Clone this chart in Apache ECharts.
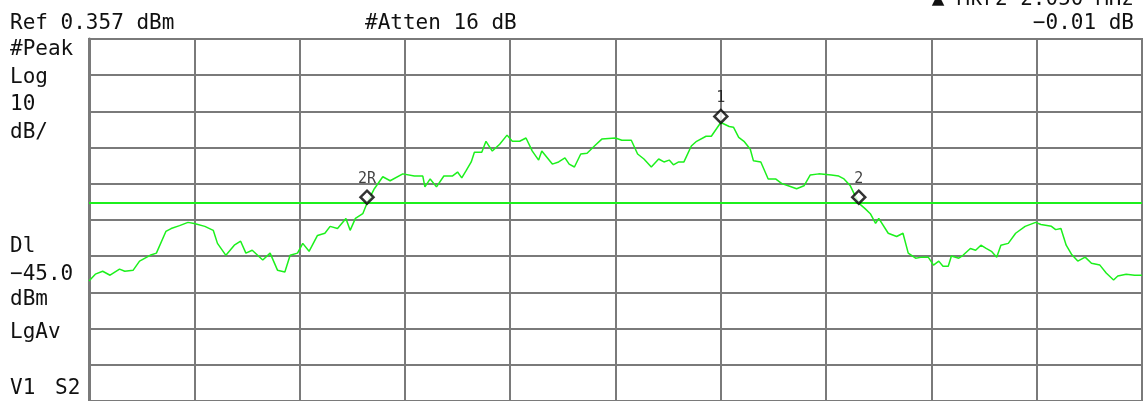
<!DOCTYPE html>
<html>
<head>
<meta charset="utf-8">
<script src="https://cdn.jsdelivr.net/npm/echarts@6/dist/echarts.min.js"></script>
<style>
  html, body { margin: 0; padding: 0; background: #fff; }
  #chart { width: 1143px; height: 401px; }
</style>
</head>
<body>
<div id="chart"></div>
<script>
// reference level and scale (top of screen = REF, 10 dB per division)
const REF = 0.357;
const DIV_DB = 10;
const DISPLAY_LINE = -45.0;

// trace, x in divisions (0..10), level in dBm
const freqDiv = [
  0, 0.06, 0.13, 0.20, 0.29, 0.34, 0.42, 0.48, 0.58, 0.64,
  0.73, 0.78, 0.86, 0.94, 1.00, 1.10, 1.18, 1.22, 1.30, 1.38,
  1.44, 1.49, 1.55, 1.65, 1.72, 1.79, 1.86, 1.91, 1.98, 2.03,
  2.09, 2.17, 2.24, 2.29, 2.36, 2.44, 2.48, 2.53, 2.60, 2.64,
  2.71, 2.79, 2.86, 2.98, 3.09, 3.17, 3.19, 3.24, 3.30, 3.37,
  3.45, 3.50, 3.54, 3.58, 3.63, 3.66, 3.73, 3.77, 3.83, 3.90,
  3.97, 4.02, 4.09, 4.15, 4.21, 4.27, 4.30, 4.40, 4.46, 4.52,
  4.56, 4.61, 4.67, 4.73, 4.80, 4.87, 5.00, 5.06, 5.15, 5.21,
  5.27, 5.34, 5.41, 5.46, 5.51, 5.55, 5.60, 5.65, 5.72, 5.77,
  5.86, 5.91, 6.00, 6.08, 6.12, 6.17, 6.22, 6.28, 6.31, 6.38,
  6.45, 6.52, 6.58, 6.64, 6.72, 6.79, 6.85, 6.93, 7.05, 7.12,
  7.17, 7.23, 7.31, 7.37, 7.42, 7.47, 7.50, 7.59, 7.67, 7.73,
  7.78, 7.85, 7.91, 7.97, 8.02, 8.07, 8.11, 8.16, 8.19, 8.26,
  8.30, 8.37, 8.42, 8.47, 8.52, 8.57, 8.62, 8.66, 8.73, 8.80,
  8.89, 8.99, 9.04, 9.14, 9.18, 9.23, 9.28, 9.33, 9.39, 9.46,
  9.52, 9.60, 9.66, 9.73, 9.77, 9.85, 9.93, 10.00
];
const levelDbm = [
  -66.5, -64.6, -63.8, -64.9, -63.2, -63.8, -63.5, -61.0, -59.4, -58.8,
  -52.8, -52.0, -51.2, -50.3, -50.6, -51.4, -52.5, -56.1, -59.4, -56.6,
  -55.5, -58.8, -58.0, -60.7, -58.8, -63.5, -64.0, -59.4, -58.8, -56.1,
  -58.3, -53.9, -53.3, -51.4, -52.0, -49.2, -52.5, -49.2, -47.9, -45.0,
  -41.0, -37.7, -38.8, -36.9, -37.5, -37.5, -40.5, -38.3, -40.5, -37.5,
  -37.5, -36.4, -38.0, -36.1, -33.6, -30.9, -30.9, -27.9, -30.6, -28.7,
  -26.2, -27.9, -27.9, -27.0, -30.6, -33.1, -30.6, -34.2, -33.6, -32.5,
  -34.2, -35.0, -31.4, -31.2, -29.2, -27.3, -27.0, -27.6, -27.6, -31.4,
  -32.8, -35.0, -32.8, -33.6, -33.1, -34.4, -33.6, -33.6, -29.2, -27.9,
  -26.5, -26.5, -22.7, -23.8, -24.0, -26.8, -27.9, -30.1, -33.3, -33.6,
  -38.3, -38.3, -39.6, -40.2, -41.0, -40.2, -37.2, -36.9, -37.2, -37.5,
  -38.3, -40.2, -45.0, -46.5, -47.9, -50.6, -49.2, -53.3, -54.2, -53.3,
  -58.8, -60.2, -59.9, -59.9, -62.1, -61.0, -62.4, -62.4, -59.6, -60.2,
  -59.4, -57.5, -58.0, -56.6, -57.5, -58.3, -59.9, -56.6, -56.1, -53.3,
  -51.4, -50.3, -50.9, -51.4, -52.3, -52.0, -56.6, -59.1, -61.0, -59.9,
  -61.6, -62.1, -64.3, -66.2, -65.1, -64.6, -64.9, -64.9
];

// markers
const markerNames = ['1', '2R', '2'];
const markerX = [6.00, 2.64, 7.31];
const markerLevel = [-22.7, -45.0, -45.0];

const FONT = '"DejaVu Sans Mono", "Liberation Mono", monospace';

const chart = echarts.init(document.getElementById('chart'));

// plotted relative to the reference level so that grid lines fall on 10 dB steps
const traceData = freqDiv.map((f, i) => [f, levelDbm[i] - REF]);
const markerData = markerNames.map((n, i) => ({
  name: n,
  value: [markerX[i], markerLevel[i] - REF]
}));

function txt(text, x, y, align, size) {
  return {
    type: 'text',
    style: {
      text: text,
      x: x,
      y: y,
      fill: '#111',
      font: (size || 21) + 'px ' + FONT,
      textAlign: align || 'left',
      textVerticalAlign: 'middle'
    }
  };
}

chart.setOption({
  animation: false,
  backgroundColor: '#fff',
  grid: {
    left: 89,
    top: 39,
    width: 1053,
    height: 365,
    show: true,
    borderColor: '#7a7a7a',
    borderWidth: 2
  },
  xAxis: {
    type: 'value',
    min: 0,
    max: 10,
    interval: 1,
    axisLabel: { show: false },
    axisTick: { show: false },
    axisLine: { show: false },
    splitLine: { show: true, lineStyle: { color: '#7a7a7a', width: 2 } }
  },
  yAxis: {
    type: 'value',
    min: -10 * DIV_DB,
    max: 0,
    interval: DIV_DB,
    axisLabel: { show: false },
    axisTick: { show: false },
    axisLine: { show: true, lineStyle: { color: '#7a7a7a', width: 3 } },
    splitLine: { show: true, lineStyle: { color: '#7a7a7a', width: 2 } }
  },
  series: [
    {
      type: 'line',
      data: traceData,
      symbol: 'none',
      lineStyle: { color: '#1cf01c', width: 1.5 },
      z: 3,
      markLine: {
        silent: true,
        symbol: 'none',
        label: { show: false },
        lineStyle: { color: '#1cf01c', width: 2, type: 'solid' },
        data: [{ yAxis: DISPLAY_LINE - REF }]
      }
    },
    {
      type: 'scatter',
      data: markerData,
      symbol: 'diamond',
      symbolSize: [13, 13],
      symbolOffset: [0, -6],
      itemStyle: { color: '#fff', borderColor: '#000', borderWidth: 2.5 },
      label: {
        show: true,
        position: 'top',
        distance: 3,
        formatter: '{b}',
        color: '#111',
        fontFamily: FONT,
        fontSize: 15
      },
      z: 5
    }
  ],
  graphic: [
    txt('Ref 0.357 dBm', 10, 24),
    txt('#Atten 16 dB', 365, 24),
    txt('\u25B2 Mkr2 2.050 MHz', 1134, 0, 'right'),
    txt('\u22120.01 dB', 1134, 24, 'right'),
    txt('#Peak', 10, 50),
    txt('Log', 10, 78),
    txt('10', 10, 105),
    txt('dB/', 10, 133),
    txt('Dl', 10, 247),
    txt('\u221245.0', 10, 275),
    txt('dBm', 10, 300),
    txt('LgAv', 10, 333),
    txt('V1', 10, 389),
    txt('S2', 55, 389)
  ]
});
</script>
</body>
</html>
